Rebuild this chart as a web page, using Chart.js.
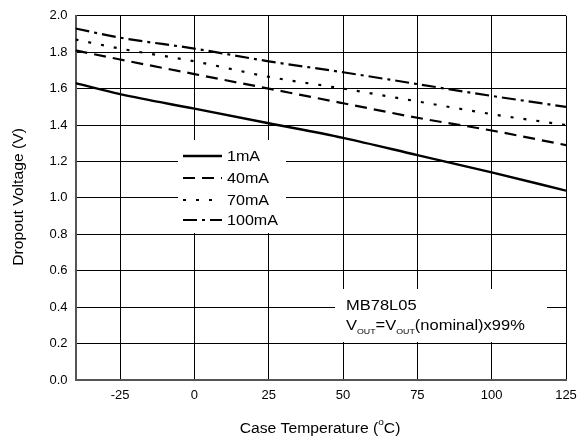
<!DOCTYPE html>
<html>
<head>
<meta charset="utf-8">
<script src="https://cdn.jsdelivr.net/npm/chart.js@4"></script>
<style>
  html, body { margin: 0; padding: 0; background: #fff; }
  #wrap { width: 588px; height: 441px; }
</style>
</head>
<body>
<div id="wrap"><canvas id="chart" width="588" height="441"></canvas></div>
<script>
// temperatura (°C) e tensione di dropout (V)
const temps = [-40, -25, 0, 25, 50, 75, 100, 125];
const v1mA = [1.63, 1.57, 1.49, 1.41, 1.33, 1.235, 1.14, 1.04];
const v40mA = [1.81, 1.76, 1.68, 1.60, 1.52, 1.44, 1.37, 1.29];
const v70mA = [1.87, 1.82, 1.75, 1.665, 1.60, 1.53, 1.46, 1.40];
const v100mA = [1.93, 1.88, 1.82, 1.75, 1.69, 1.625, 1.56, 1.50];
const seriesLabels = ['1mA', '40mA', '70mA', '100mA'];
const xTicks = [-25, 0, 25, 50, 75, 100, 125];
const yTicks = [0.0, 0.2, 0.4, 0.6, 0.8, 1.0, 1.2, 1.4, 1.6, 1.8, 2.0];

const FONT = '"Liberation Sans", Arial, sans-serif';
const dashes = [[], [12, 7], [3, 10], [14, 5, 3, 5]];
const widths = [2.4, 2.2, 2.2, 2.2];

function pts(vals) {
  return temps.map((t, i) => ({ x: t, y: vals[i] }));
}

// testo leggermente allargato come nell'originale
function wideText(ctx, txt, x, y, size, sx) {
  ctx.save();
  ctx.font = size + 'px ' + FONT;
  ctx.translate(x, y);
  ctx.scale(sx, 1);
  ctx.fillText(txt, 0, 0);
  const w = ctx.measureText(txt).width * sx;
  ctx.restore();
  return w;
}

// disegna legenda, nota e titoli degli assi
const overlay = {
  id: 'overlay',
  afterDatasetsDraw(chart) {
    const ctx = chart.ctx;
    ctx.save();
    ctx.textAlign = 'left';

    // riquadro legenda
    ctx.fillStyle = '#fff';
    ctx.fillRect(178, 140, 108, 93);
    chart.data.datasets.forEach((ds, i) => {
      const y = [156, 178, 200, 220][i];
      ctx.strokeStyle = '#000';
      ctx.lineWidth = ds.borderWidth;
      ctx.setLineDash(ds.borderDash || []);
      ctx.beginPath();
      ctx.moveTo(183, y);
      ctx.lineTo(222, y);
      ctx.stroke();
      ctx.setLineDash([]);
      ctx.fillStyle = '#000';
      ctx.textBaseline = 'middle';
      wideText(ctx, ds.label, 227, y + 1, 14, 1.15);
    });

    // riquadro nota
    ctx.fillStyle = '#fff';
    ctx.fillRect(335, 289, 212, 53);
    ctx.fillStyle = '#000';
    ctx.textBaseline = 'alphabetic';
    wideText(ctx, 'MB78L05', 346, 310, 15, 1.1);
    let x = 346;
    const parts = [['V', 0], ['OUT', 1], ['=V', 0], ['OUT', 1], ['(nominal)x99%', 0]];
    parts.forEach(p => {
      x += p[1] ? wideText(ctx, p[0], x, 334, 8, 1.1) : wideText(ctx, p[0], x, 330, 15, 1.1);
    });

    // titolo asse x con apice
    const a = 'Case Temperature (', b = 'o', c = 'C)';
    ctx.font = '14px ' + FONT;
    const sx = 1.12;
    const wa = ctx.measureText(a).width * sx, wc = ctx.measureText(c).width * sx;
    ctx.font = '9px ' + FONT;
    const wb = ctx.measureText(b).width * sx;
    let x0 = 320 - (wa + wb + wc) / 2;
    wideText(ctx, a, x0, 433, 14, sx);
    wideText(ctx, b, x0 + wa, 425, 9, sx);
    wideText(ctx, c, x0 + wa + wb, 433, 14, sx);

    // titolo asse y
    ctx.translate(19, 197);
    ctx.rotate(-Math.PI / 2);
    ctx.textAlign = 'center';
    ctx.textBaseline = 'middle';
    ctx.scale(1.12, 1);
    ctx.font = '14px ' + FONT;
    ctx.fillText('Dropout Voltage (V)', 0, 0);
    ctx.restore();
  }
};

new Chart(document.getElementById('chart').getContext('2d'), {
  type: 'line',
  data: {
    datasets: [v1mA, v40mA, v70mA, v100mA].map((v, i) => ({
      label: seriesLabels[i],
      data: pts(v),
      borderColor: '#000',
      backgroundColor: '#000',
      borderWidth: widths[i],
      borderDash: dashes[i],
      pointRadius: 0,
      tension: 0.4,
      cubicInterpolationMode: 'monotone',
      fill: false
    }))
  },
  plugins: [overlay],
  options: {
    responsive: false,
    animation: false,
    devicePixelRatio: 1,
    layout: { padding: { top: 15, right: 22, left: 0, bottom: 0 } },
    plugins: { legend: { display: false }, tooltip: { enabled: false } },
    scales: {
      x: {
        type: 'linear',
        min: -40,
        max: 125,
        afterBuildTicks: s => { s.ticks = xTicks.map(v => ({ value: v })); },
        afterFit: s => { s.height = 61; },
        grid: { color: '#000', lineWidth: 1, drawTicks: false },
        border: { color: '#555', width: 2 },
        ticks: { color: '#000', font: { family: FONT, size: 13 }, padding: 8, maxRotation: 0,
                 callback: v => String(v) }
      },
      y: {
        min: 0,
        max: 2.0,
        afterBuildTicks: s => { s.ticks = yTicks.map(v => ({ value: v })); },
        afterFit: s => { s.width = 75.5; },
        grid: { color: '#000', lineWidth: 1, drawTicks: false },
        border: { color: '#555', width: 2 },
        ticks: { color: '#000', font: { family: FONT, size: 13 }, padding: 8,
                 callback: v => Number(v).toFixed(1) }
      }
    }
  }
});
</script>
</body>
</html>
